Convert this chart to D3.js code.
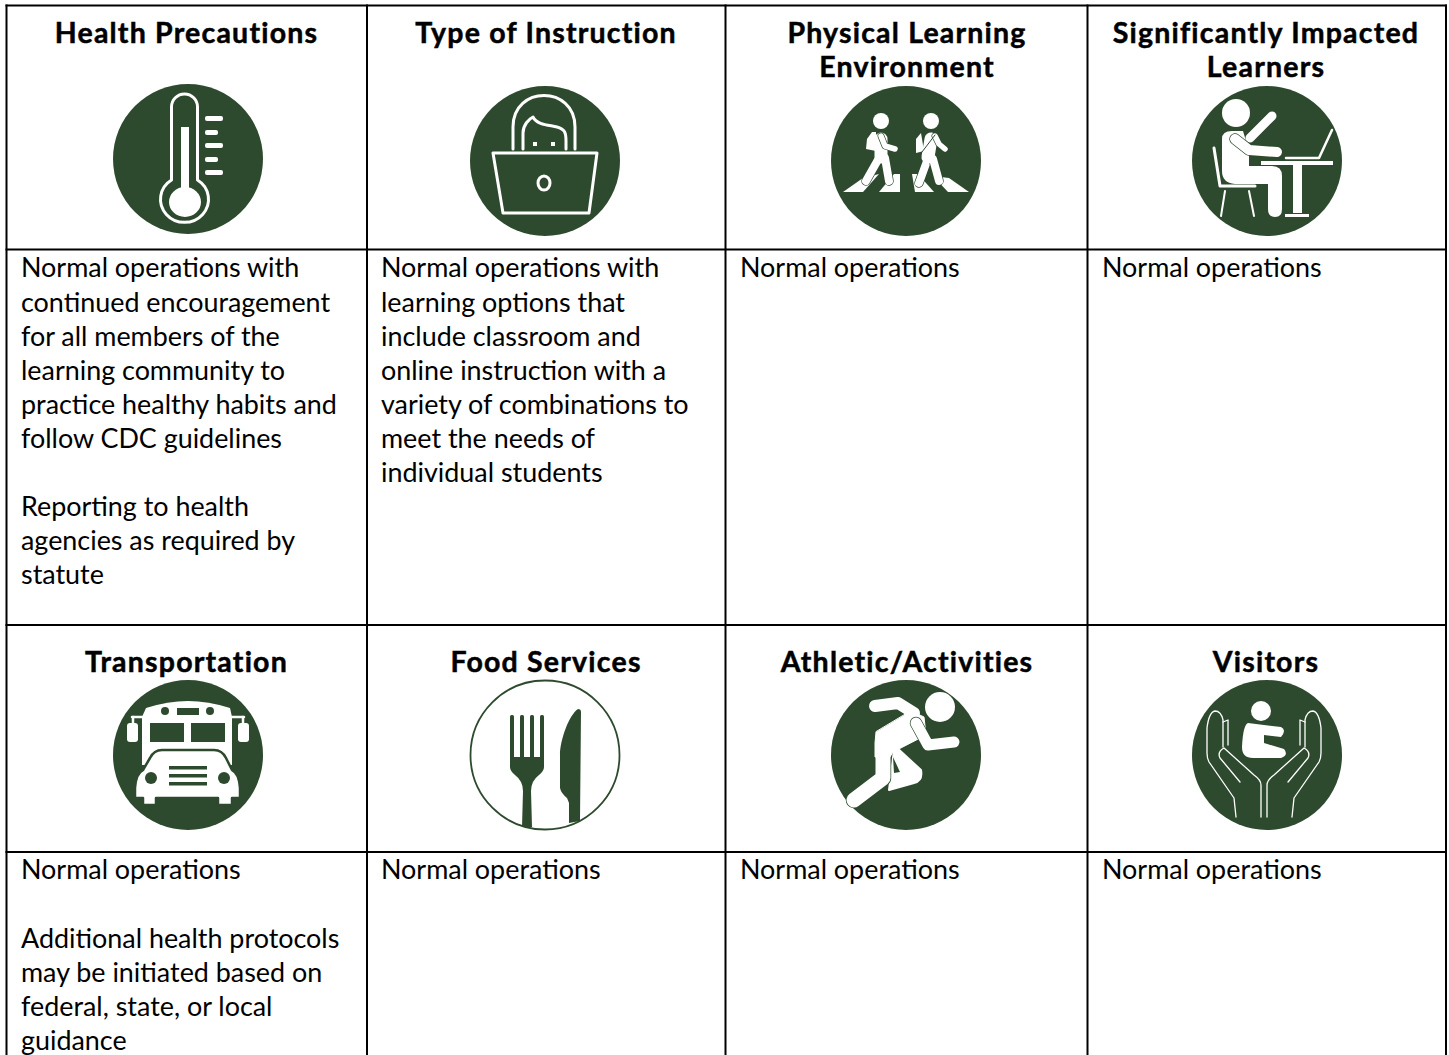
<!DOCTYPE html>
<html>
<head>
<meta charset="utf-8">
<title>Operations table</title>
<script src="https://cdn.jsdelivr.net/npm/d3@7"></script>
<style>
  html, body { margin: 0; padding: 0; background: #fff; overflow: hidden; }
  svg { display: block; }
  text { font-family: Lato, "Open Sans", sans-serif; fill: #000; }
</style>
</head>
<body>
<div id="chart"></div>
<script>
// table content
const topTitles = [['Health Precautions'], ['Type of Instruction'], ['Physical Learning', 'Environment'], ['Significantly Impacted', 'Learners']];
const bottomTitles = [['Transportation'], ['Food Services'], ['Athletic/Activities'], ['Visitors']];
const topBodies = [
    ['Normal operations with', 'continued encouragement', 'for all members of the', 'learning community to', 'practice healthy habits and', 'follow CDC guidelines', '', 'Reporting to health', 'agencies as required by', 'statute'],
    ['Normal operations with', 'learning options that', 'include classroom and', 'online instruction with a', 'variety of combinations to', 'meet the needs of', 'individual students'],
    ['Normal operations'],
    ['Normal operations']
];
const bottomBodies = [
    ['Normal operations', '', 'Additional health protocols', 'may be initiated based on', 'federal, state, or local', 'guidance'],
    ['Normal operations'],
    ['Normal operations'],
    ['Normal operations']
];
const topIcons = ['thermometer', 'laptop', 'walkers', 'desk'];
const bottomIcons = ['bus', 'cutlery', 'runner', 'hands'];

// layout
const W = 1449, H = 1055;
const colLines = [6.5, 367, 725.5, 1087.5, 1446];
const rowLines = [5.5, 249.5, 625, 852];
const textX = [21, 381, 740, 1102];
const titleX = [186.5, 546, 907, 1266];
const GREEN = '#2e4a2e';
const FONT = 26.9, TITLE_FONT = 28.5, STEP = 34.1;

const svg = d3.select('#chart').append('svg').attr('width', W).attr('height', H);

// icons, drawn around the centre of the disc
function shape(g, d, fill, stroke, sw) {
    return g.append('path').attr('d', d).attr('fill', fill || 'none')
        .attr('stroke', stroke || 'none').attr('stroke-width', sw || 0)
        .attr('stroke-linecap', 'round').attr('stroke-linejoin', 'round');
}
function limb(g, d, w) { return shape(g, d, 'none', '#fff', w); }
function outlined(g, d, w) {
    shape(g, d, 'none', GREEN, w + 1.4);
    limb(g, d, w);
}
function rect(g, x, y, w, h, fill, r) {
    return g.append('rect').attr('x', x).attr('y', y).attr('width', w).attr('height', h)
        .attr('rx', r || 0).attr('fill', fill || '#fff');
}
function oval(g, x, y, rx, ry, fill) {
    return g.append('ellipse').attr('cx', x).attr('cy', y).attr('rx', rx).attr('ry', ry).attr('fill', fill || '#fff');
}

const icons = {
    thermometer(g) {
        shape(g, 'M-16.5,-52 A13,13 0 0 1 9.5,-52 L9.5,21 A24,23 0 1 1 -16.5,21 Z', 'none', '#fff', 3);
        oval(g, -3, 43, 16, 15);
        rect(g, -7, -32, 8, 70);
        [[-43, 18], [-29, 13], [-16, 18], [-2, 13], [11, 18]].forEach(t => {
            rect(g, 17, t[0], t[1], 5, '#fff', 2);
        });
    },
    laptop(g) {
        shape(g, 'M-32,-12 L-32,-34 C-32,-76 30,-76 30,-34 L30,-12', 'none', '#fff', 3);
        shape(g, 'M-22,-12 L-22,-28 C-22,-36 -16,-42 -12,-44 C-8,-36 4,-36 12,-34 C20,-32 21,-28 21,-20 L21,-12', 'none', '#fff', 3);
        rect(g, -12, -19, 4, 4);
        rect(g, 6, -19, 4, 4);
        shape(g, 'M-52,-8 L52,-8 L44,52 L-42,52 Z', 'none', '#fff', 3);
        g.append('ellipse').attr('cx', -1).attr('cy', 22).attr('rx', 6).attr('ry', 7)
            .attr('fill', 'none').attr('stroke', '#fff').attr('stroke-width', 3);
    },
    walkers(g) {
        ['M-63,31 L-43,31 L-27,13 L-43,17 Z', 'M-27,31 L-6,31 L-6,13 L-12,13 Z', 'M6,13 L12,13 L28,31 L9,31 Z', 'M63,31 L42,31 L27,15 L43,17 Z']
            .forEach(d => shape(g, d, '#fff'));
        // left walker
        oval(g, -25, -40, 8, 8);
        shape(g, 'M-40,-12 L-39,-22 L-34,-29 L-30,-29 L-30,-10 Z', '#fff');
        outlined(g, 'M-27,-3 L-40,20', 8);
        outlined(g, 'M-21,-3 L-17,20', 8);
        limb(g, 'M-25,-22 L-25,-4', 13);
        outlined(g, 'M-25,-25 L-21,-15 L-11,-12', 5.5);
        // right walker
        oval(g, 25, -40, 8, 8);
        shape(g, 'M10,-8 L10,-22 L15,-28 L18,-10 Z', '#fff');
        outlined(g, 'M21,0 L13,22', 8);
        outlined(g, 'M27,-2 L33,20', 8);
        limb(g, 'M25,-22 L22,-4', 13);
        outlined(g, 'M29,-25 L33,-17 L39,-12', 5.5);
        shape(g, 'M29,-26 L16,-9', 'none', GREEN, 1);
    },
    desk(g) {
        oval(g, -31, -48, 14, 14);
        limb(g, 'M-17,-23 L5,-45', 9);
        shape(g, 'M-45,-22 Q-45,-30 -35,-30 L-24,-30 L-18,-10 L-18,5 L5,5 Q15,5 15,15 L15,48 Q15,56 8,56 Q1,56 1,48 L1,23 L-32,23 Q-45,22 -45,10 Z', '#fff');
        outlined(g, 'M-32,-22 L-18,-11 L10,-9', 10);
        rect(g, -6, 0, 72, 4);
        rect(g, 26, 4, 9, 48);
        rect(g, 18, 53, 24, 3);
        limb(g, 'M19,-3 L52,-3 L65,-31', 2.5);
        limb(g, 'M-53,-13 L-47,25 L-12,25', 3);
        limb(g, 'M-42,30 L-46,55 M-18,30 L-13,55', 2);
    },
    bus(g) {
        shape(g, 'M-46,-38 L-42,-47 Q-20,-54 0,-54 Q20,-54 42,-47 L44,-38 L44,10 L-46,10 Z', '#fff');
        limb(g, 'M-56,-38 L56,-38', 2.5);
        limb(g, 'M-55,-38 L-55,-32 M55,-38 L55,-32', 2.5);
        rect(g, -61, -32, 11, 19, '#fff', 3);
        rect(g, 50, -32, 11, 19, '#fff', 3);
        rect(g, -38, -32, 34, 19, GREEN);
        rect(g, 3, -32, 34, 19, GREEN);
        oval(g, -23, -44, 4, 4, GREEN);
        oval(g, 22, -44, 4, 4, GREEN);
        rect(g, -11, -47, 22, 7, GREEN);
        shape(g, 'M-53,43 L-53,33 Q-52,18 -45,15 L-38,3 Q-34,-5 -26,-5 L26,-5 Q34,-5 38,3 L44,15 Q51,18 52,33 L52,43 L44,43 L44,50 L30,50 L30,43 L-32,43 L-32,50 L-45,50 L-45,43 Z', '#fff', GREEN, 2.5);
        oval(g, -37, 23, 6, 6, GREEN);
        oval(g, 36, 23, 6, 6, GREEN);
        [11, 19, 27].forEach(y => rect(g, -19, y, 38, 3.5, GREEN));
    },
    cutlery(g) {
        [-35, -25, -15, -5].forEach(x => rect(g, x, -40, 4, 46, GREEN, 1.5));
        shape(g, 'M-35,2 L-1,2 L-1,12 Q-1,16 -6,20 Q-14,26 -14,36 L-13,72 L-23,72 L-22,36 Q-22,26 -30,20 Q-35,16 -35,12 Z', GREEN);
        shape(g, 'M33,-46 C24,-40 15,-15 15,0 L15,33 Q16,38 22,43 L24,48 L24,68 L35,66 L36,-43 Q36,-46 33,-46 Z', GREEN);
    },
    runner(g) {
        oval(g, 34, -48, 15, 15);
        limb(g, 'M-31,-49 L-8,-52 L8,-42', 12);
        shape(g, 'M-10,-8 L15,15 Q17,26 8,28 L-17,35 L-12,-5 Z', '#fff', '#fff', 2);
        shape(g, 'M-13,2 L-6,17 L-12,18 Z', GREEN);
        outlined(g, 'M-23,-13 L-23,23 L-52,45', 15);
        shape(g, 'M5,-44 L18,-38 L20,-20 L-13,-3 L-16,2 L-31,2 L-31,-12 L-30,-23 Z', '#fff', '#fff', 1);
        outlined(g, 'M10,-32 L22,-10 L48,-13', 11);
    },
    hands(g) {
        oval(g, -6, -44, 10, 10);
        shape(g, 'M-19,-32 L14,-28 Q20,-25 14,-18 L-3,-20 L-3,-12 L17,-6 Q22,0 14,3 L-14,3 Q-25,3 -25,-8 Q-24,-30 -19,-32 Z', '#fff');
        ['translate(0,0)', 'translate(-6,0) scale(-1,1)'].forEach(tr => {
            const h = g.append('g').attr('transform', tr);
            shape(h, 'M-44,-8 L-44,-35 Q-46,-44 -52,-44 Q-58,-43 -60,-27 L-60,-2 Q-60,3 -58,7 L-33,43 L-31,62', 'none', '#fff', 1.3);
            shape(h, 'M-27,27 L-47,3 Q-50,-3 -43,-7 L-13,20 Q-6,25 -6,30 L-6,62', 'none', '#fff', 1.3);
            shape(h, 'M-44,-33 L-39,-35 L-39,-10', 'none', '#fff', 1.3);
        });
    }
};

function drawIcon(name, cx, cy) {
    const g = svg.append('g').attr('transform', `translate(${cx},${cy})`);
    if (name === 'cutlery') {
        g.append('circle').attr('r', 74.5).attr('fill', '#fff').attr('stroke', GREEN).attr('stroke-width', 1.8);
    } else {
        g.append('circle').attr('r', 75).attr('fill', GREEN);
    }
    icons[name](g);
}

function drawLines(lines, x, y0, size, weight, anchor, spacing, heavy) {
    svg.append('g').selectAll('text').data(lines).enter().append('text')
        .attr('x', x)
        .attr('y', (d, i) => y0 + i * STEP)
        .attr('dy', '0.35em')
        .attr('text-anchor', anchor)
        .attr('stroke', heavy ? '#000' : 'none')
        .attr('stroke-width', heavy || 0)
        .style('font-size', size + 'px')
        .style('font-weight', weight)
        .style('letter-spacing', spacing + 'px')
        .text(d => d);
}

// header and body cells
const iconCy = [[159, 161, 161, 161], [755, 755, 755, 755]];
const iconCx = [188, 545, 906, 1267];
d3.range(4).forEach(i => {
    drawLines(topTitles[i], titleX[i], 33, TITLE_FONT, 700, 'middle', 1.2, 0.5);
    drawLines(bottomTitles[i], titleX[i], 662, TITLE_FONT, 700, 'middle', 1.2, 0.5);
    drawLines(topBodies[i], textX[i], 268, FONT, 400, 'start', 0, 0);
    drawLines(bottomBodies[i], textX[i], 870, FONT, 400, 'start', 0, 0);
    drawIcon(topIcons[i], iconCx[i], iconCy[0][i]);
    drawIcon(bottomIcons[i], iconCx[i], iconCy[1][i]);
});

// table rules
svg.append('g').selectAll('line').data(colLines).enter().append('line')
    .attr('x1', d => d).attr('x2', d => d).attr('y1', rowLines[0] - 1).attr('y2', H)
    .attr('stroke', '#000').attr('stroke-width', 2);
svg.append('g').selectAll('line').data(rowLines).enter().append('line')
    .attr('x1', colLines[0] - 1).attr('x2', colLines[4] + 1).attr('y1', d => d).attr('y2', d => d)
    .attr('stroke', '#000').attr('stroke-width', 2);
</script>
</body>
</html>
